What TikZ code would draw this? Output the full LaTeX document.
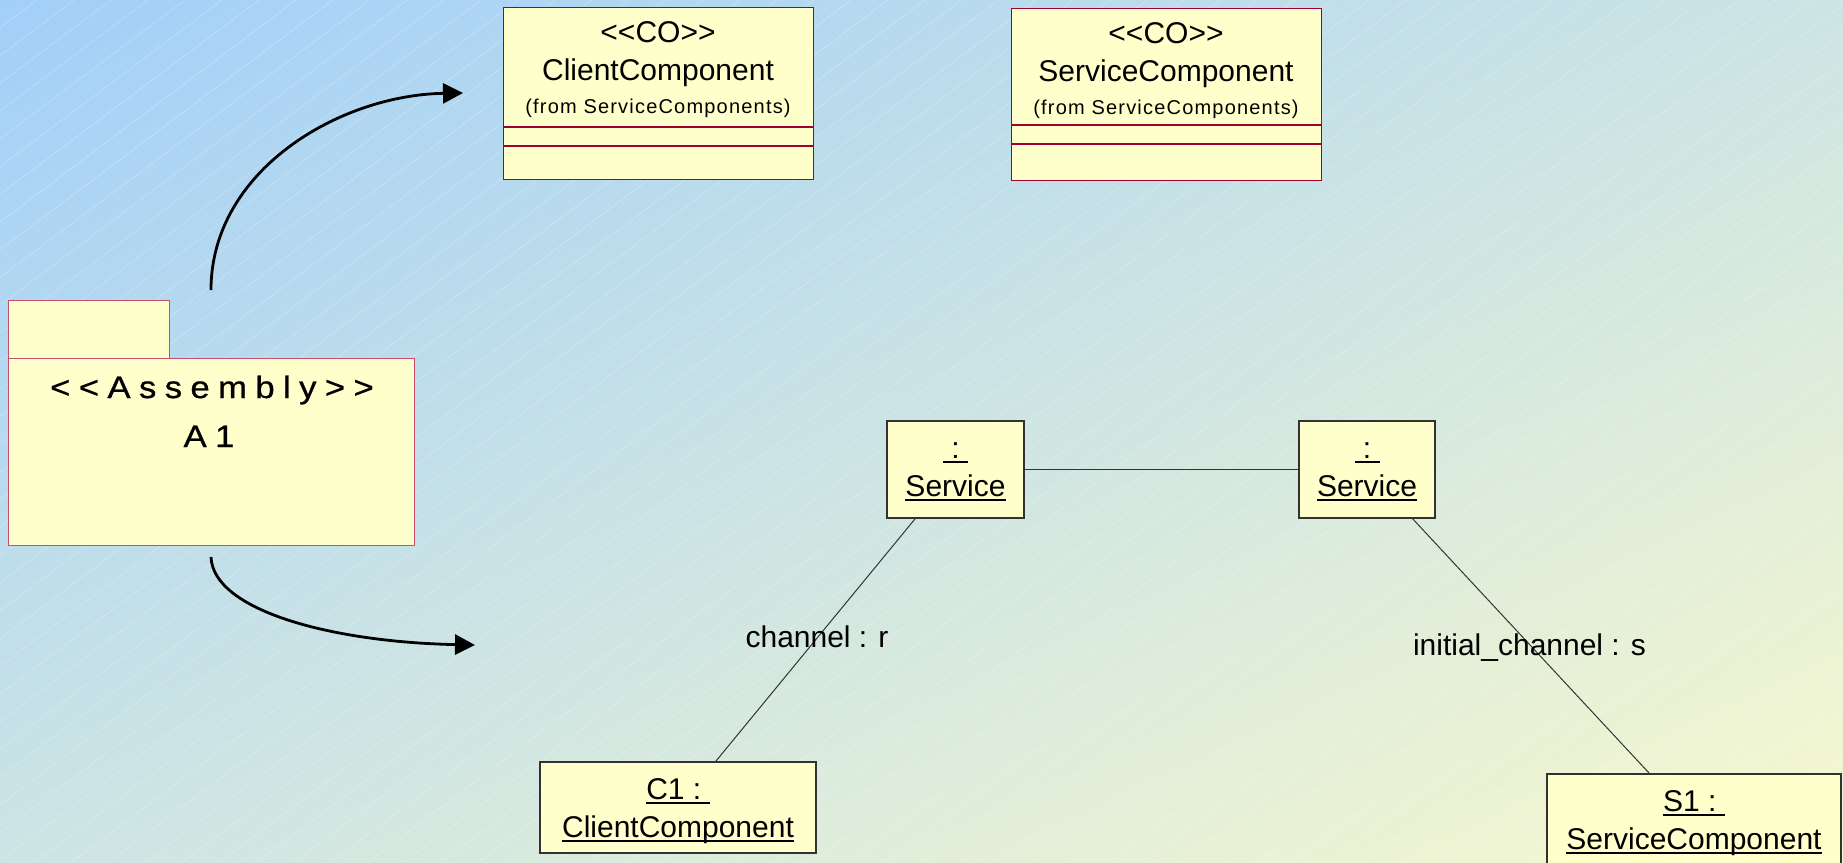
\documentclass[tikz,border=0pt]{standalone}
\usepackage{fontspec}
\setmainfont{Liberation Sans}
\newfontfamily\spacedfont[FakeStretch=1.12, FakeBold=0.8, LetterSpace=27, Ligatures=TeXOff]{Liberation Sans}
\newfontfamily\fromfont[LetterSpace=6]{Liberation Sans}
\usetikzlibrary{arrows.meta,shadings}
\definecolor{bgA}{RGB}{162,207,249}
\definecolor{bgB}{RGB}{247,248,206}
\definecolor{bgM}{RGB}{204,228,228}
\definecolor{boxfill}{RGB}{255,255,204}
\definecolor{classline}{RGB}{160,0,50}
\definecolor{pkgline}{RGB}{200,80,110}
\definecolor{objline}{RGB}{50,50,50}
\newsavebox\ulsave
\newcommand\myul[1]{\sbox\ulsave{#1}\rlap{\rule[-4.5pt]{\wd\ulsave}{1.4pt}}\usebox\ulsave}
\tikzset{
  big/.style={font=\fontsize{30}{36}\selectfont, inner sep=0pt, anchor=base},
  small/.style={font=\fromfont\fontsize{20}{24}\selectfont, inner sep=0pt, anchor=base},
  spaced/.style={font=\spacedfont\fontsize{31}{36}\selectfont, inner sep=0pt, anchor=base},
  classbox/.style={draw=classline, fill=boxfill, line width=1.3pt, anchor=north west,
    minimum width=310pt, minimum height=172pt, inner sep=0pt},
  classdiv/.style={draw=classline, line width=1.3pt},
  pkgbox/.style={draw=pkgline, fill=boxfill, line width=1.3pt, anchor=north west, inner sep=0pt},
  objbox/.style={draw=objline, fill=boxfill, line width=1.2pt, inner sep=0pt},
  link/.style={draw=black!80, line width=1pt},
  flow/.style={draw=black, line width=2.8pt, -{Triangle[length=20pt,width=20pt]}},
  hatch/.style={draw=white, opacity=0.25, line width=0.7pt},
}
\begin{document}
\begin{tikzpicture}[x=1pt,y=-1pt]
\useasboundingbox (0,0) rectangle (1843,862);
\clip (0,0) rectangle (1843,862);
\shade[upper left=bgA, upper right=bgM, lower left=bgM, lower right=bgB] (0,0) rectangle (1843,862);
\foreach \i in {0,...,82} { \draw[hatch] ({\i*37},0) -- ({\i*37-1149},862); }

% package
\node[pkgbox, minimum width=161pt, minimum height=58pt] (tab) at (8,300) {};
\node[pkgbox, minimum width=406pt, minimum height=187pt] (pkg) at (8,358) {};
\node[spaced] (pkgst) at (212,398) {<<Assembly>>};
\node[spaced] (pkgname) at (209,447) {A1};

% class boxes
\node[classbox] (cc) at (503,7) {};
\draw[classdiv] ([yshift=-120pt]cc.north west) -- ([yshift=-120pt]cc.north east);
\draw[classdiv] ([yshift=-139pt]cc.north west) -- ([yshift=-139pt]cc.north east);
\node[big] (ccst) at (658,42) {<\kern0pt<CO>\kern0pt>};
\node[big] (ccname) at (658,80) {ClientComponent};
\node[small] (ccfrom) at (658,113) {(from ServiceComponents)};

\node[classbox] (sc) at (1011,8) {};
\draw[classdiv] ([yshift=-117pt]sc.north west) -- ([yshift=-117pt]sc.north east);
\draw[classdiv] ([yshift=-136pt]sc.north west) -- ([yshift=-136pt]sc.north east);
\node[big] (scst) at (1166,43) {<\kern0pt<CO>\kern0pt>};
\node[big] (scname) at (1166,81) {ServiceComponent};
\node[small] (scfrom) at (1166,114) {(from ServiceComponents)};

% arrows
\coordinate (a1s) at (211,290);
\coordinate (a1e) at (463,93);
\draw[flow] (a1s) .. controls (211,170) and (340,95) .. (a1e);
\coordinate (a2s) at (211,557);
\coordinate (a2e) at (475,645);
\draw[flow] (a2s) .. controls (213,610) and (330,642) .. (a2e);

% object boxes
\node[objbox, minimum width=137pt, minimum height=97pt] (sL) at (955.5,469.5) {};
\node[objbox, minimum width=136pt, minimum height=97pt] (sR) at (1367,469.5) {};
\node[objbox, minimum width=276pt, minimum height=91pt] (c1) at (678,807.5) {};
\node[objbox, minimum width=294pt, minimum height=95pt] (s1) at (1694,821.5) {};

\draw[link] (sL) -- (sR);
\draw[link] (sL) -- (c1);
\draw[link] (sR) -- (s1);

\node[big] (sLa) at (955.5,458) {\myul{\ :\ }};
\node[big] (sLb) at (955.5,496) {\myul{Service}};
\node[big] (sRa) at (1367,458) {\myul{\ :\ }};
\node[big] (sRb) at (1367,496) {\myul{Service}};
\node[big] (c1a) at (678,799) {\myul{C1 :\ }};
\node[big] (c1b) at (678,837) {\myul{ClientComponent}};
\node[big] (s1a) at (1694,811) {\myul{S1 :\ }};
\node[big] (s1b) at (1694,849) {\myul{ServiceComponent}};

\node[big] (lab1) at (817,647) {channel : r};
\node[big] (lab2) at (1529.5,655) {initial\_channel : s};
\end{tikzpicture}
\end{document}
